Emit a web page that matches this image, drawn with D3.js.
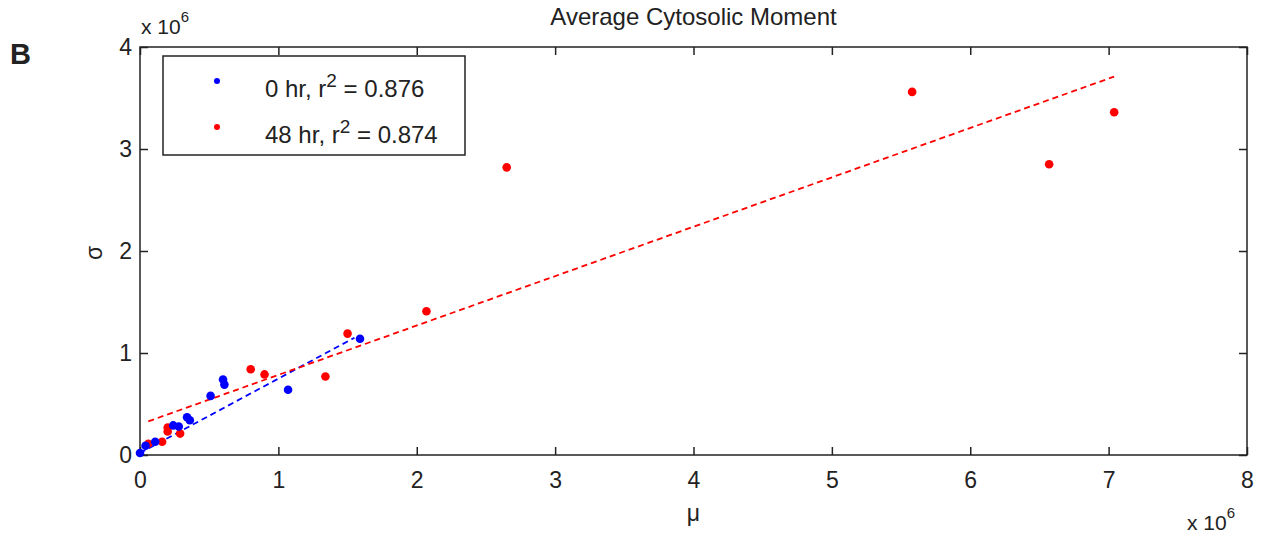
<!DOCTYPE html>
<html>
<head>
<meta charset="utf-8">
<script src="https://cdn.jsdelivr.net/npm/d3@7"></script>
<style>
  body { margin: 0; background: #fff; }
  text { font-family: "Liberation Sans", Arial, sans-serif; fill: #222; }
</style>
</head>
<body>
<div id="chart"></div>
<script>
// values in units of 10^6
const hr0X = [0.00, 0.04, 0.11, 0.24, 0.28, 0.34, 0.36, 0.51, 0.60, 0.61, 1.07, 1.59];
const hr0Y = [0.02, 0.09, 0.13, 0.29, 0.28, 0.37, 0.34, 0.58, 0.74, 0.69, 0.64, 1.14];
const hr48X = [0.06, 0.16, 0.20, 0.20, 0.29, 0.80, 0.90, 1.34, 1.50, 2.07, 2.65, 5.58, 6.57, 7.04];
const hr48Y = [0.11, 0.13, 0.27, 0.23, 0.21, 0.84, 0.79, 0.77, 1.19, 1.41, 2.82, 3.56, 2.85, 3.36];
// fitted lines (endpoints)
const fit0X = [0.00, 1.55];
const fit0Y = [0.02, 1.15];
const fit48X = [0.06, 7.04];
const fit48Y = [0.33, 3.71];
const xTicks = [0, 1, 2, 3, 4, 5, 6, 7, 8];
const yTicks = [0, 1, 2, 3, 4];
const legendLabels = ["0 hr, r", "48 hr, r"];
const legendR2 = ["0.876", "0.874"];
const colors = ["#0000ff", "#ff0000"];

const W = 1263, H = 537;
const margin = { top: 47, right: 16, bottom: 82, left: 140 },
    width = W - margin.left - margin.right,
    height = H - margin.top - margin.bottom;

const root = d3.select("#chart").append("svg")
    .attr("width", W).attr("height", H);
const svg = root.append("g")
    .attr("transform", `translate(${margin.left},${margin.top})`);

const x = d3.scaleLinear().domain([0, 8]).range([0, width]);
const y = d3.scaleLinear().domain([0, 4]).range([height, 0]);

// axes with inward ticks
const tickLen = 8;
svg.append("g").attr("transform", `translate(0,${height})`)
    .call(d3.axisBottom(x).tickValues(xTicks).tickFormat(d3.format("d"))
        .tickSizeInner(-tickLen).tickSizeOuter(0).tickPadding(17))
    .call(g => g.select(".domain").remove());
svg.append("g")
    .call(d3.axisTop(x).tickValues(xTicks).tickSizeInner(-tickLen).tickSizeOuter(0).tickFormat(""))
    .call(g => g.select(".domain").remove());
svg.append("g")
    .call(d3.axisLeft(y).tickValues(yTicks).tickFormat(d3.format("d"))
        .tickSizeInner(-tickLen).tickSizeOuter(0).tickPadding(8))
    .call(g => g.select(".domain").remove());
svg.append("g").attr("transform", `translate(${width},0)`)
    .call(d3.axisRight(y).tickValues(yTicks).tickSizeInner(-tickLen).tickSizeOuter(0).tickFormat(""))
    .call(g => g.select(".domain").remove());
svg.selectAll(".tick line").attr("stroke", "#222").attr("stroke-width", 1.5);
svg.selectAll(".tick text").style("font-size", "23px").attr("fill", "#222");

svg.append("rect").attr("width", width).attr("height", height)
    .attr("fill", "none").attr("stroke", "#222").attr("stroke-width", 1.5);

// fit lines
const line = d3.line().x(d => x(d[0])).y(d => y(d[1]));
[[fit0X, fit0Y, colors[0]], [fit48X, fit48Y, colors[1]]].forEach(([fx, fy, c]) => {
    svg.append("path")
        .attr("d", line(fx.map((v, i) => [v, fy[i]])))
        .attr("fill", "none").attr("stroke", c)
        .attr("stroke-width", 1.8).attr("stroke-dasharray", "6,4");
});

// points
svg.selectAll(".p48").data(hr48X).enter().append("circle")
    .attr("cx", d => x(d)).attr("cy", (d, i) => y(hr48Y[i]))
    .attr("r", 4.3).attr("fill", colors[1]);
svg.selectAll(".p0").data(hr0X).enter().append("circle")
    .attr("cx", d => x(d)).attr("cy", (d, i) => y(hr0Y[i]))
    .attr("r", 4.3).attr("fill", colors[0]);

// legend
const lg = svg.append("g").attr("transform", "translate(23,9)");
lg.append("rect").attr("width", 302).attr("height", 99)
    .attr("fill", "#fff").attr("stroke", "#222").attr("stroke-width", 1.5);
legendLabels.forEach((lab, i) => {
    const row = lg.append("g").attr("transform", `translate(0,${25 + i * 46})`);
    row.append("circle").attr("cx", 54).attr("cy", 0).attr("r", 3).attr("fill", colors[i]);
    const t = row.append("text").attr("x", 102).attr("y", 16).style("font-size", "24px");
    t.append("tspan").text(lab);
    t.append("tspan").attr("dy", -10).style("font-size", "19px").text("2");
    t.append("tspan").attr("dy", 10).text(" = " + legendR2[i]);
});

// texts
root.append("text").attr("x", margin.left + width / 2).attr("y", 25)
    .attr("text-anchor", "middle").style("font-size", "24px").text("Average Cytosolic Moment");
root.append("text").attr("x", margin.left + width / 2).attr("y", 521)
    .attr("text-anchor", "middle").style("font-size", "23px").text("μ");
root.append("text").attr("transform", "translate(102,253) rotate(-90)")
    .attr("text-anchor", "middle").style("font-size", "23px").text("σ");
root.append("text").attr("x", 10).attr("y", 64)
    .style("font-size", "29px").style("font-weight", "bold").attr("fill", "#000").text("B");

function expo(gx, gy) {
    const t = root.append("text").attr("x", gx).attr("y", gy).style("font-size", "21px");
    t.append("tspan").text("x 10");
    t.append("tspan").attr("dy", -12).style("font-size", "15px").text("6");
}
expo(141, 34);
expo(1187, 530);
</script>
</body>
</html>
